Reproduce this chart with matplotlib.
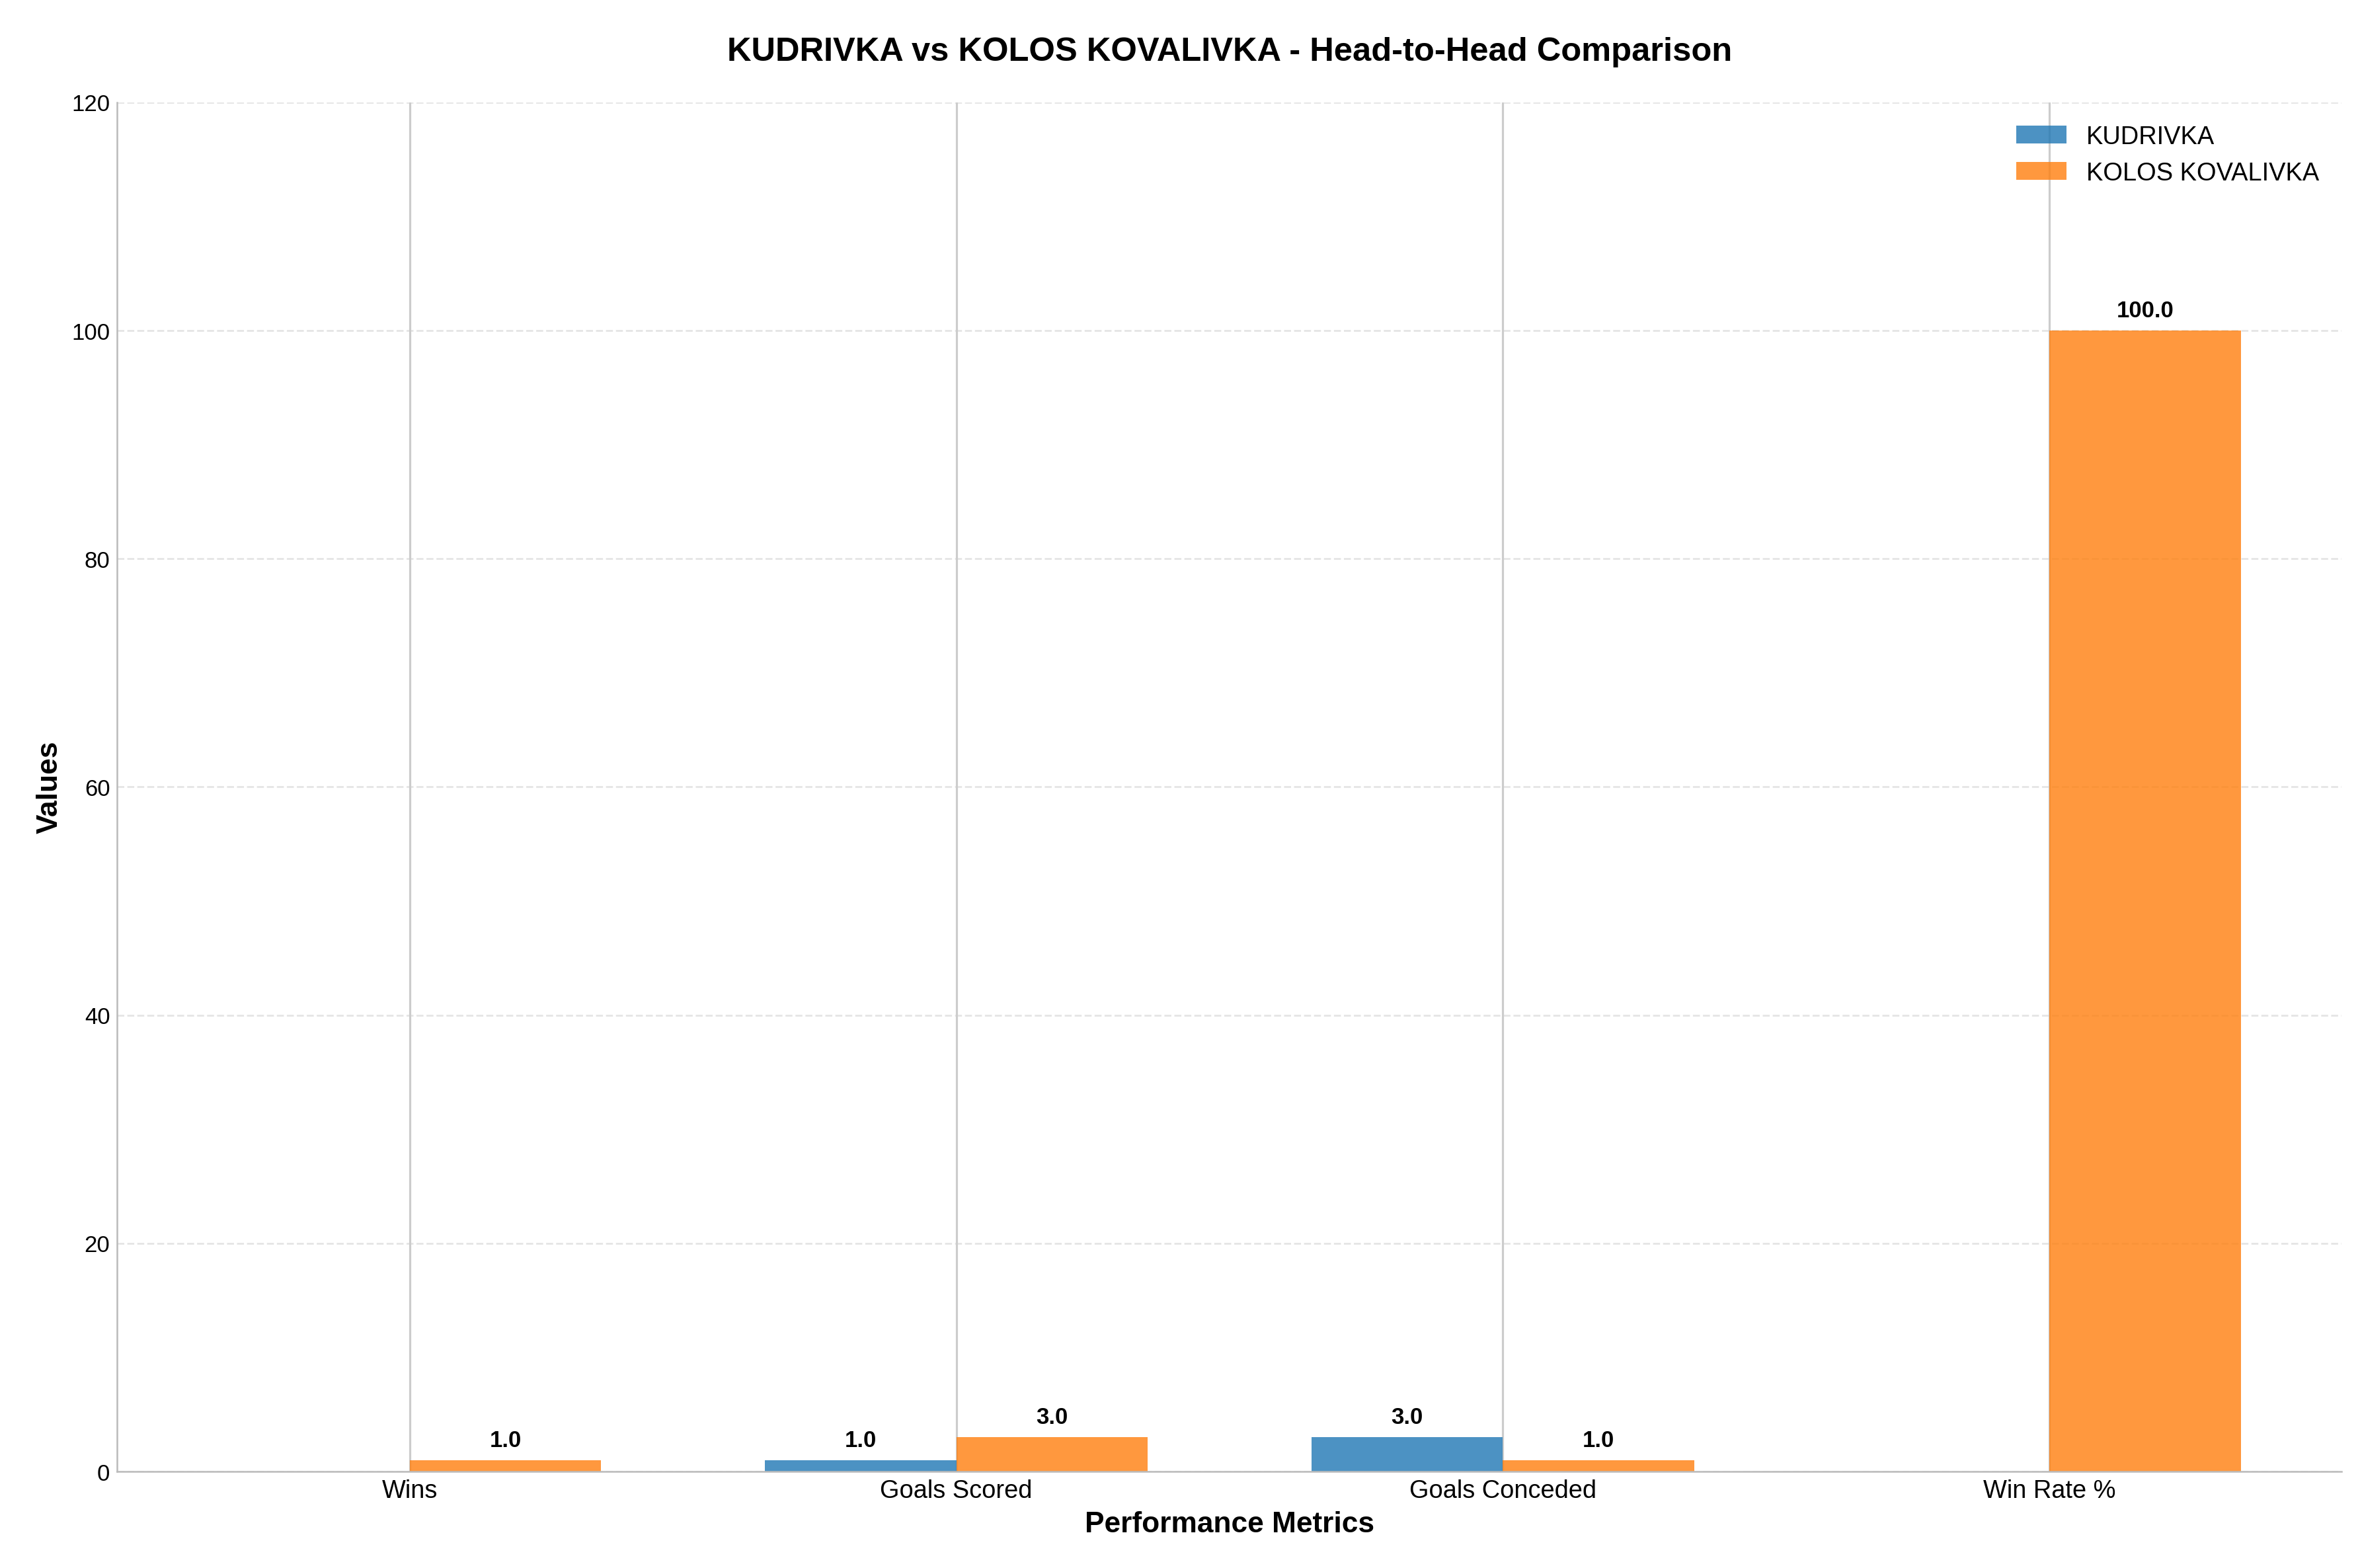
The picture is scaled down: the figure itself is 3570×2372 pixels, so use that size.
import matplotlib
matplotlib.use("Agg")
import matplotlib.pyplot as plt
import numpy as np

metrics = ["Wins", "Goals Scored", "Goals Conceded", "Win Rate %"]
team1 = "KUDRIVKA"
team2 = "KOLOS KOVALIVKA"
team1_vals = [0, 1, 3, 0]
team2_vals = [1, 3, 1, 100]

plt.rcParams['font.family'] = ['Arial', 'Liberation Sans', 'DejaVu Sans']
fig = plt.figure(figsize=(15.68, 10.42), dpi=227.7)
ax = fig.add_axes([0.0497, 0.0615, 0.9425, 0.873])
x = np.arange(len(metrics))
w = 0.35
b1 = ax.bar(x - w/2, team1_vals, w, color='#1f77b4', alpha=0.8, label=team1, zorder=2)
b2 = ax.bar(x + w/2, team2_vals, w, color='#ff7f0e', alpha=0.8, label=team2, zorder=2)
for bars in (b1, b2):
    for b in bars:
        h = b.get_height()
        if h > 0:
            ax.text(b.get_x() + b.get_width()/2, h + 0.8, f"{h:.1f}", ha='center', va='bottom',
                    fontsize=11, fontweight='bold')
ax.set_ylim(0, 120)
ax.set_xticks(x)
ax.set_xticklabels(metrics, fontsize=12)
ax.tick_params(axis='y', labelsize=11, length=0)
ax.tick_params(axis='x', length=0)
ax.set_xlabel("Performance Metrics", fontsize=14, fontweight='bold')
ax.set_ylabel("Values", fontsize=14, fontweight='bold')
ax.set_title(f"{team1} vs {team2} - Head-to-Head Comparison", fontsize=16, fontweight='bold', pad=20)
ax.grid(axis='x', color='#cccccc', linewidth=1, zorder=0)
ax.grid(axis='y', color='#cccccc', linestyle='--', alpha=0.5, linewidth=0.9, zorder=0)
ax.set_axisbelow(True)
for s in ['top', 'right']:
    ax.spines[s].set_visible(False)
for s in ['left', 'bottom']:
    ax.spines[s].set_color('#bbbbbb')
ax.legend(fontsize=12, frameon=False, loc='upper right')
fig.savefig("out.png", dpi=227.7)
